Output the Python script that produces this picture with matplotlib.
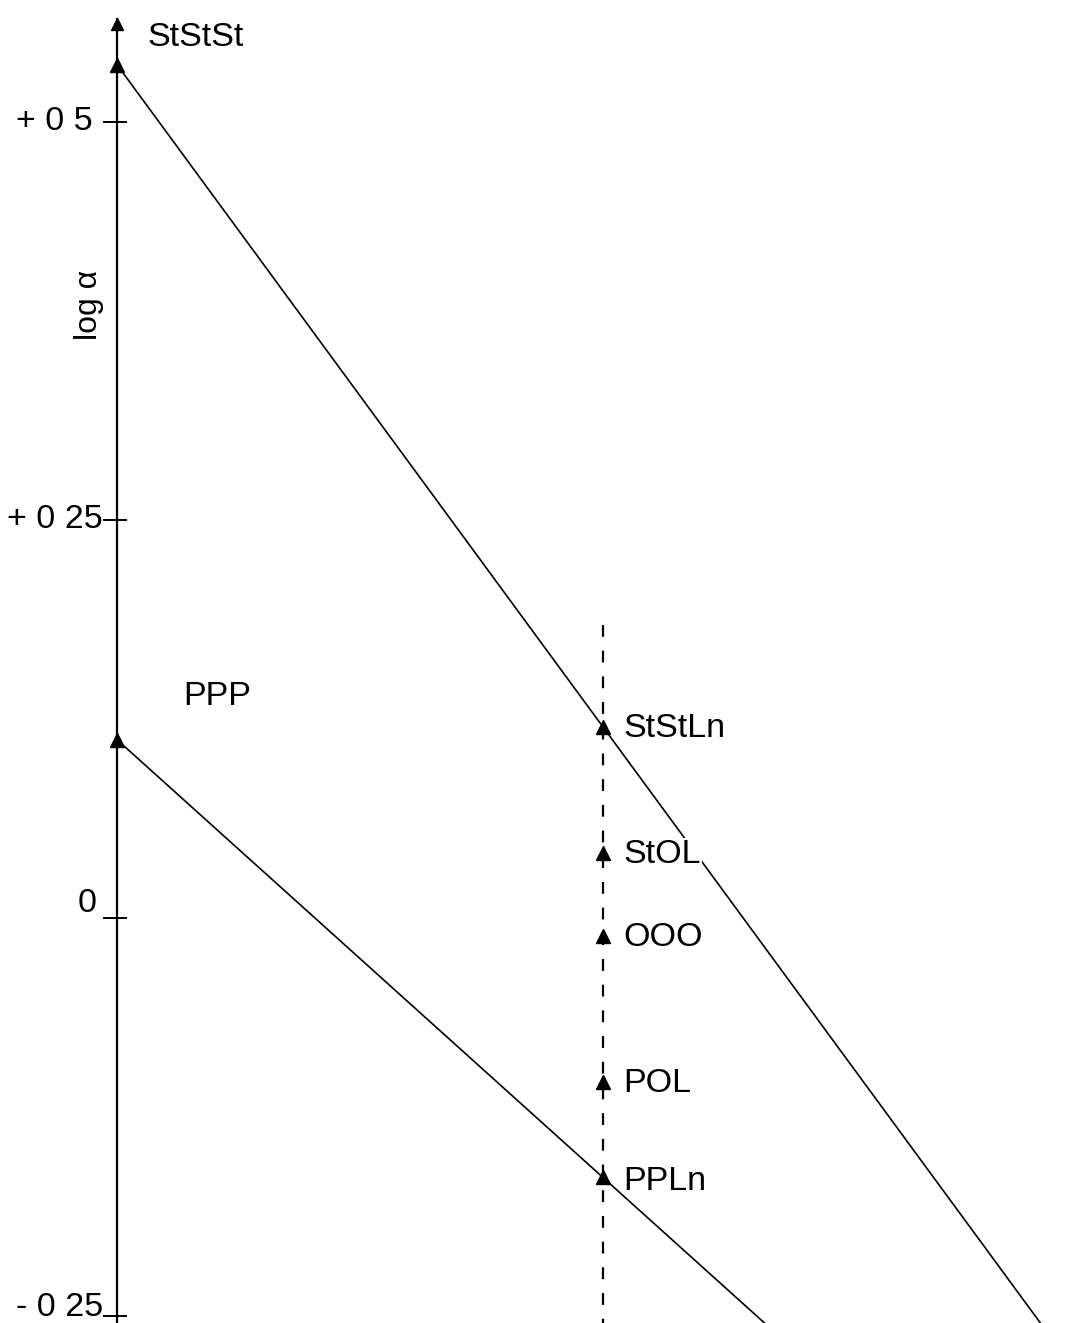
import numpy as np
import matplotlib.pyplot as plt

plt.rcParams["font.family"] = ["Liberation Sans", "DejaVu Sans"]
plt.rcParams["lines.scale_dashes"] = False

# triglycerides: x = number of double bonds, y = log alpha
names = ["StStSt", "PPP", "StStLn", "StOL", "OOO", "POL", "PPLn"]
bonds = [0, 0, 3, 3, 3, 3, 3]
log_alpha = [0.536, 0.112, 0.120, 0.041, -0.011, -0.103, -0.163]

# label offsets in pixels from each point
offsets = {"StStSt": (30, 27), "PPP": (66, 43), "PPLn": (20, -4)}

tick_vals = [0.5, 0.25, 0.0, -0.25]
tick_text = ["+ 0 5", "+ 0 25", "0", "- 0 25"]

fig = plt.figure(figsize=(10.86, 13.23), dpi=100)
ax = fig.add_axes([0, 0, 1, 1])
ax.set_xlim(-117 / 162, (1086 - 117) / 162)
ax.set_ylim(-(1323 - 918) / 1592, 918 / 1592)
ax.axis("off")

# y axis with arrow head on top
ytop = ax.get_ylim()[1]
ax.plot([0, 0], [ax.get_ylim()[0], ytop - 0.012], color="black", lw=1.6, zorder=2)
ax.plot([0], [ytop - 0.015], marker="^", ms=8, color="black", zorder=3)

for v, t in zip(tick_vals, tick_text):
    ax.plot([-0.08, 0.055], [v, v], color="black", lw=1.4)
for v, t, dx, dy in zip(tick_vals, tick_text, [-24, -14, -20, -14], [0, 0, 14, 9]):
    ax.annotate(t, (0, v), xytext=(dx * 0.72, dy * 0.72), textcoords="offset points",
                ha="right", va="center", fontsize=24.5)

ax.text(-0.17, 0.385, "log α", rotation=90, ha="center", va="center", fontsize=23)

# dashed line at three double bonds
ax.plot([3, 3], [0.184, ax.get_ylim()[0]], color="black", lw=1.6, dashes=(8.5, 10))

# straight lines through the saturated point and the Ln point, extended past the frame
pts = dict(zip(names, zip(bonds, log_alpha)))
for a, b in [("StStSt", "StStLn"), ("PPP", "PPLn")]:
    (x0, y0), (x1, y1) = pts[a], pts[b]
    x_end = 8
    y_end = y0 + (y1 - y0) / (x1 - x0) * (x_end - x0)
    ax.plot([x0, x_end], [y0, y_end], color="black", lw=1.2, zorder=1)

ax.plot(bonds, log_alpha, linestyle="none", marker="^", ms=10.5, color="black", zorder=4)

for n, x, y in zip(names, bonds, log_alpha):
    dx, dy = offsets.get(n, (20, -2))
    bbox = dict(facecolor="white", edgecolor="none", pad=1) if n == "StOL" else None
    ax.annotate(n, (x, y), xytext=(dx * 0.72, dy * 0.72), textcoords="offset points",
                ha="left", va="center", fontsize=24.5, bbox=bbox, zorder=5)

fig.savefig("out.png", dpi=100)
